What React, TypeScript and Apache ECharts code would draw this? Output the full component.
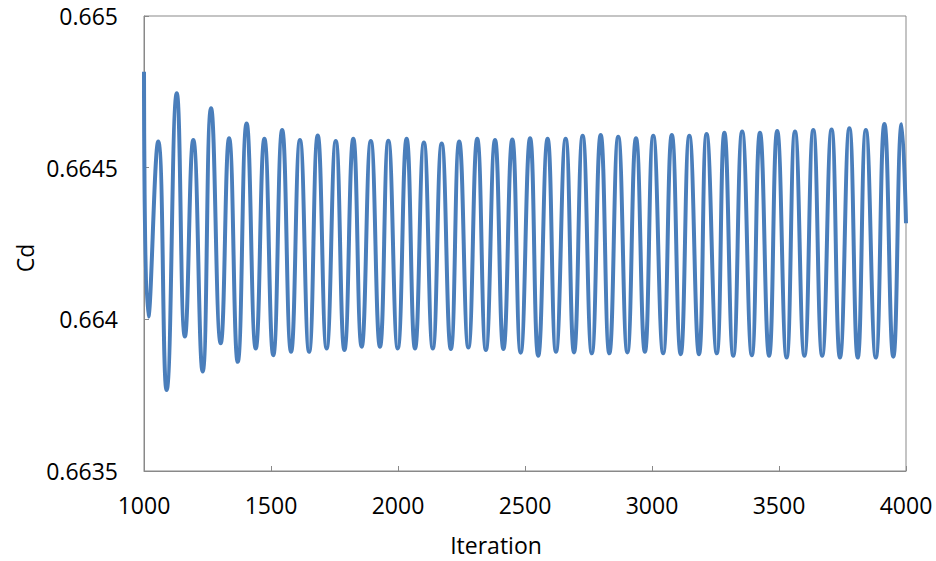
import React, { useEffect, useRef } from "react";
import * as echarts from "echarts";

const xTicks = [1000, 1500, 2000, 2500, 3000, 3500, 4000];
const yTicks = [0.6635, 0.664, 0.6645, 0.665];

const startPoint: [number, number] = [1000, 0.664816];
const endPoint: [number, number] = [4000, 0.664317];

const peakIters = [
  1056, 1129, 1194, 1264, 1335, 1404, 1474, 1544, 1614, 1684, 1755, 1824, 1893, 1962, 2034,
  2102, 2172, 2241, 2312, 2382, 2450, 2520, 2589, 2660, 2727, 2798, 2867, 2937, 3005, 3078,
  3147, 3215, 3285, 3355, 3425, 3493, 3563, 3635, 3707, 3777, 3842, 3915, 3983,
];
const peakValues = [
  0.664586, 0.664745, 0.664591, 0.664696, 0.664597, 0.664646, 0.664595, 0.664624, 0.664591,
  0.664606, 0.664588, 0.664595, 0.664588, 0.664589, 0.664595, 0.664583, 0.66458, 0.664586,
  0.664595, 0.664591, 0.664593, 0.664597, 0.664595, 0.664595, 0.664605, 0.664608, 0.664602,
  0.664597, 0.664605, 0.664608, 0.664605, 0.664611, 0.664615, 0.664619, 0.664615, 0.664621,
  0.664619, 0.664624, 0.664626, 0.66463, 0.664624, 0.664644, 0.664643,
];

const troughIters = [
  1017, 1089, 1161, 1231, 1302, 1369, 1440, 1509, 1579, 1650, 1719, 1789, 1857, 1929, 1999,
  2067, 2137, 2208, 2277, 2346, 2415, 2483, 2552, 2622, 2693, 2763, 2832, 2903, 2972, 3044,
  3113, 3185, 3255, 3320, 3393, 3461, 3530, 3600, 3670, 3740, 3810, 3881, 3950,
];
const troughValues = [
  0.664009, 0.663767, 0.663943, 0.663828, 0.663921, 0.66386, 0.663904, 0.663882, 0.663893,
  0.663893, 0.663904, 0.663899, 0.66391, 0.66391, 0.663904, 0.663904, 0.663904, 0.663902,
  0.663907, 0.663899, 0.663902, 0.66389, 0.66388, 0.663893, 0.663891, 0.663888, 0.663888,
  0.663891, 0.663893, 0.663888, 0.663885, 0.663885, 0.663888, 0.66388, 0.663882, 0.66388,
  0.663874, 0.66388, 0.66388, 0.663874, 0.663874, 0.663874, 0.663877,
];

const FONT = "'Open Sans', 'Noto Sans', sans-serif";

export default function App() {
  const ref = useRef<HTMLDivElement>(null);

  useEffect(() => {
    if (!ref.current) return;
    const chart = echarts.init(ref.current, null, { renderer: "svg" });

    const pts: [number, number][] = [startPoint];
    peakIters.forEach((x, i) => pts.push([x, peakValues[i]]));
    troughIters.forEach((x, i) => pts.push([x, troughValues[i]]));
    pts.push(endPoint);
    pts.sort((a, b) => a[0] - b[0]);

    chart.setOption({
      animation: false,
      backgroundColor: "#ffffff",
      grid: {
        left: 144,
        right: 30,
        top: 16,
        bottom: 90,
        show: true,
        borderColor: "#898989",
        borderWidth: 1,
        backgroundColor: "transparent",
      },
      xAxis: {
        type: "value",
        min: xTicks[0],
        max: xTicks[xTicks.length - 1],
        interval: 500,
        axisLine: { show: true, lineStyle: { color: "#898989", width: 1 } },
        axisTick: { show: true, inside: true, length: 5, lineStyle: { color: "#898989" } },
        splitLine: { show: false },
        axisLabel: {
          color: "#000",
          fontSize: 23,
          fontFamily: FONT,
          margin: 22,
          formatter: (v: number) => String(v),
        },
      },
      yAxis: {
        type: "value",
        min: yTicks[0],
        max: yTicks[yTicks.length - 1],
        interval: 0.0005,
        axisLine: { show: true, lineStyle: { color: "#898989", width: 1 } },
        axisTick: { show: true, inside: true, length: 5, lineStyle: { color: "#898989" } },
        splitLine: { show: false },
        axisLabel: {
          color: "#000",
          fontSize: 23,
          fontFamily: FONT,
          margin: 26,
          formatter: (v: number) => String(parseFloat(v.toFixed(4))),
        },
      },
      graphic: [
        {
          type: "text",
          x: 25,
          y: 258,
          rotation: Math.PI / 2,
          style: {
            text: "Cd",
            fill: "#000",
            font: `23px ${FONT}`,
            align: "center",
            verticalAlign: "middle",
          },
        },
        {
          type: "text",
          x: 496,
          y: 545,
          style: {
            text: "Iteration",
            fill: "#000",
            font: `23px ${FONT}`,
            align: "center",
            verticalAlign: "middle",
          },
        },
      ],
      series: [
        {
          type: "line",
          data: pts,
          smooth: 0.5,
          showSymbol: false,
          symbol: "none",
          lineStyle: { color: "#4A7EBB", width: 4 },
        },
      ],
    });

    return () => chart.dispose();
  }, []);

  return (
    <div
      ref={ref}
      style={{ position: "fixed", left: 0, top: 0, width: 936, height: 561 }}
    />
  );
}
